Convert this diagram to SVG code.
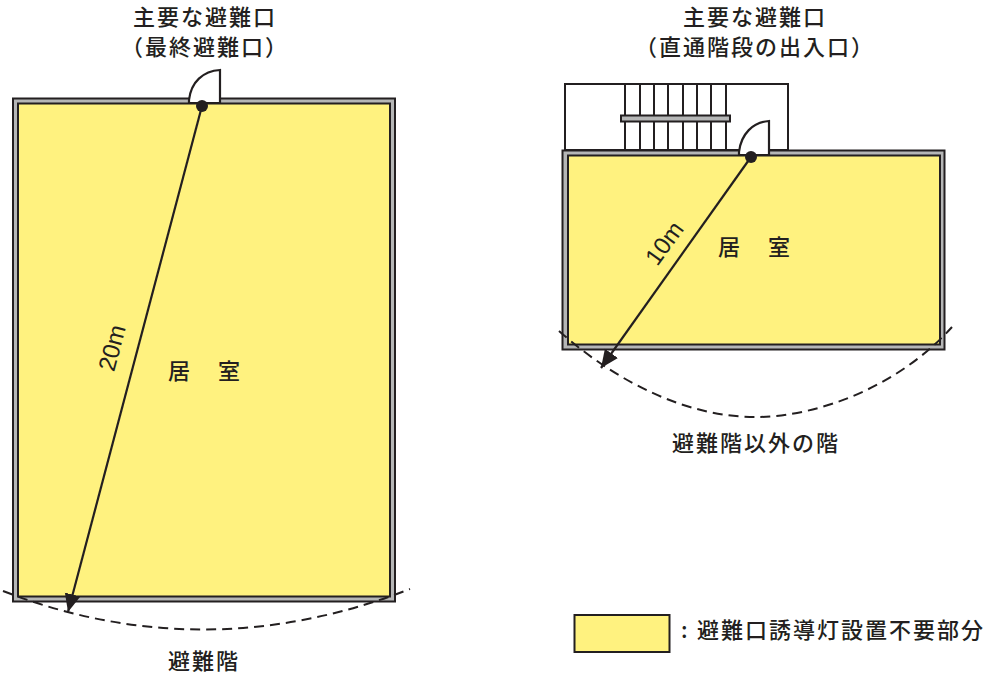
<svg xmlns="http://www.w3.org/2000/svg" width="988" height="675" viewBox="0 0 988 675">
<style>
.t{font-family:"Noto Sans CJK JP","Liberation Sans",sans-serif;font-size:22px;font-weight:500;fill:#231f20;text-anchor:middle;letter-spacing:2px}
.s{text-anchor:start;letter-spacing:0}
.wall{fill:#b5b6b6;stroke:#231f20;stroke-width:2}
.in{fill:#fff27f;stroke:#231f20;stroke-width:2}
.l{fill:none;stroke:#231f20;stroke-width:2}
.d{fill:none;stroke:#231f20;stroke-width:2;stroke-dasharray:10 6}
.a{fill:none;stroke:#231f20;stroke-width:2.2;marker-end:url(#ah)}
.door{fill:#fff;stroke:#231f20;stroke-width:2.2}
.n{font-family:"Liberation Sans",sans-serif;font-size:24px;fill:#231f20;text-anchor:middle}
</style>
<defs><marker id="ah" markerUnits="userSpaceOnUse" markerWidth="20" markerHeight="18" refX="18" refY="8" orient="auto"><path d="M0 0L18 8L0 16Z" fill="#231f20"/></marker></defs>
<g id="room-left">
<rect class="wall" x="13" y="98.500" width="382" height="503"/>
<rect class="in" x="18" y="103.500" width="372" height="493"/>
<text class="t s" x="168 218" y="379">居室</text>
</g>
<g id="door-left">
<path class="door" d="M189 103V100C191 82 203 71 220 70V103Z"/>
<circle cx="202" cy="106" r="6" fill="#231f20"/>
</g>
<g id="room-right">
<g id="stairs">
<rect class="l" x="565" y="84" width="223" height="66"/>
<path class="l" d="M625 84V150M640 84V150M654 84V150M668 84V150M683 84V150M697 84V150M711 84V150M726 84V150"/>
<rect x="621" y="115.500" width="109" height="6" fill="#b5b6b6" stroke="#231f20" stroke-width="2"/>
</g>
<rect class="wall" x="562.500" y="150.500" width="382" height="199"/>
<rect class="in" x="568" y="155.500" width="372" height="189"/>
<text class="t s" x="718 768" y="255">居室</text>
</g>
<g id="door-right">
<path class="door" d="M739 155V152C741 134 753 122 769 121V155Z"/>
<circle cx="751" cy="157" r="6" fill="#231f20"/>
</g>
<g id="connectors">
<path class="d" d="M3 591Q204 669 410 589"/>
<path class="d" d="M559 331C620 385 690 417 755 417C820 417 900 385 952 327"/>
<path class="a" d="M202 106L68 612"/>
<path class="a" d="M751 157L601 368"/>
</g>
<g id="labels">
<text class="t" x="205" y="25">主要な避難口</text>
<text class="t" x="205" y="55">（最終避難口）</text>
<text class="t" x="755" y="25">主要な避難口</text>
<text class="t" x="755" y="55">（直通階段の出入口）</text>
<text class="t" x="204" y="669">避難階</text>
<text class="t" x="756" y="451">避難階以外の階</text>
<text class="n" transform="translate(120 350) rotate(-75)">20m</text>
<text class="n" transform="translate(671 248) rotate(-54)">10m</text>
</g>
<g id="legend">
<rect x="574.500" y="615" width="95" height="37" fill="#fff27f" stroke="#231f20" stroke-width="2"/>
<text class="t s" x="681" y="638">:</text>
<text class="t s" x="697" y="638" style="letter-spacing:2px">避難口誘導灯設置不要部分</text>
</g>
</svg>
